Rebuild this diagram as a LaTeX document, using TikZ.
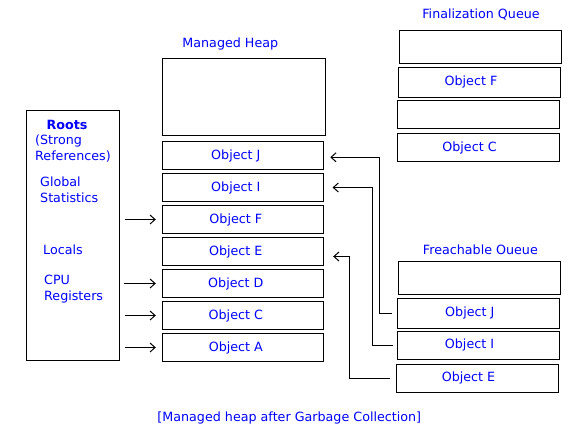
\documentclass[tikz,border=0pt]{standalone}
\usepackage{fontspec}
\setmainfont{DejaVu Sans}
\usetikzlibrary{
    positioning,
    calc,
    arrows.meta,
}
\definecolor{lblblue}{RGB}{0,0,255}

\begin{document}
\begin{tikzpicture}[
    x=1pt, y=-1pt,
    node distance=3pt,
    >={Straight Barb[length=5pt, width=9pt]},
    every node/.style={font=\fontsize{12.7}{16}\selectfont, text=lblblue},
    title/.style={inner sep=0pt},
    box/.style={draw=black, line width=1pt, minimum width=161pt, minimum height=28pt, inner sep=0pt},
    heapobj/.style={box, execute at end node={\hspace*{14pt}}},
    queueobj/.style={box, minimum width=162pt, execute at end node={\hspace*{17pt}}},
    ref/.style={->, line width=1pt, shorten >=6pt},
    back/.style={->, line width=1pt},
]

\useasboundingbox (0,0) rectangle (581,428);

% roots
\node[box, minimum width=93pt, minimum height=250pt] (roots) at (72.5,235) {};
\node[title] (rootsTitle) at (67,125) {\bfseries Roots};
\node[title, align=left, anchor=west] (strong) at (35,149) {(Strong\\References)};
\node[title, align=left, anchor=west] (globals) at (40,189.5) {Global\\Statistics};
\node[title, anchor=west] (locals) at (43,249.7) {Locals};
\node[title, align=left, anchor=west] (cpu) at (44,288.7) {CPU\\Registers};

% managed heap
\node[title] (heapTitle) at (230.3,43.5) {Managed Heap};
\node[box, minimum width=163pt, minimum height=76pt] (heapTop) at (243.5,97) {};
\node[heapobj] (hJ) at (242.8,155.5) {Object J};
\node[heapobj, below=of hJ] (hI) {Object I};
\node[heapobj, below=of hI] (hF) {Object F};
\node[heapobj, below=of hF] (hE) {Object E};
\node[heapobj, below=of hE] (hD) {Object D};
\node[heapobj, below=of hD] (hC) {Object C};
\node[heapobj, below=of hC] (hA) {Object A};

% finalization queue
\node[title] (finTitle) at (481,14) {Finalization Queue};
\node[queueobj, minimum height=33pt] (q1) at (480.5,46.8) {};
\node[queueobj, minimum height=30pt] (qF) at (479.5,82.3) {Object F};
\node[queueobj] (q3) at (478.8,114.2) {};
\node[queueobj] (qC) at (478,147.5) {Object C};

% freachable queue
\node[title] (frTitle) at (480.4,249.3) {Freachable Oueue};
\node[queueobj, minimum height=32.6pt] (fTop) at (479.3,278) {};
\node[queueobj, minimum height=30pt] (fJ) at (478.3,313.3) {Object J};
\node[queueobj] (fI) at (478,345) {Object I};
\node[queueobj] (fE) at (477,378.3) {Object E};

\node[title] (caption) at (289.3,417.5) {[Managed heap after Garbage Collection]};

\draw[ref] ($(roots.east |- hF)+(5,0)$) -- (hF);
\draw[ref] ($(roots.east |- hD)+(4,0)$) -- (hD);
\draw[ref] ($(roots.east |- hC)+(5,0)$) -- (hC);
\draw[ref] ($(roots.east |- hA)+(5,0)$) -- (hA);

\draw[back, shorten <=4.5pt, shorten >=6.5pt] (fJ.west) -- ++(-17,0) |- ([yshift=-1.8pt]hJ.east);
\draw[back, shorten <=3.3pt, shorten >=8.8pt] (fI.west) -- ++(-24,0) |- (hI.east);
\draw[back, shorten <=5.6pt, shorten >=9.4pt] (fE.west) -- ++(-45.6,0) |- ([yshift=-5pt]hE.east);

\end{tikzpicture}
\end{document}
